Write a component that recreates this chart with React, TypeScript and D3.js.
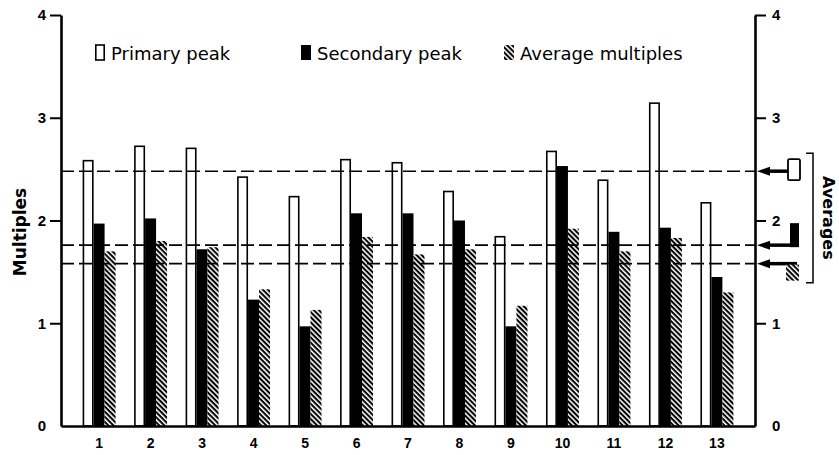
import React, { useEffect, useRef } from 'react';
import * as d3 from 'd3';

// values
const groups = ['1', '2', '3', '4', '5', '6', '7', '8', '9', '10', '11', '12', '13'];
const primaryPeak = [2.59, 2.73, 2.71, 2.43, 2.24, 2.6, 2.57, 2.29, 1.85, 2.68, 2.4, 3.15, 2.18];
const secondaryPeak = [1.97, 2.02, 1.72, 1.23, 0.97, 2.07, 2.07, 2.0, 0.97, 2.53, 1.89, 1.93, 1.45];
const averageMultiples = [1.7, 1.8, 1.74, 1.33, 1.13, 1.84, 1.67, 1.72, 1.17, 1.92, 1.7, 1.83, 1.3];
const seriesKeys = ['primary', 'secondary', 'average'];
const seriesLabels = ['Primary peak', 'Secondary peak', 'Average multiples'];
const averageLevels = [2.48, 1.76, 1.58];
const yTicks = [0, 1, 2, 3, 4];

const W = 839, H = 455;
const left = 61, right = 755, top = 15, bottom = 426;
const FONT = 'Liberation Sans, Arial, sans-serif';
const TEXT_FONT = 'DejaVu Sans, sans-serif';

const App = () => {
  const ref = useRef<SVGSVGElement>(null);

  useEffect(() => {
    document.body.style.margin = '0';
    const svg = d3.select(ref.current);
    svg.selectAll('*').remove();

    // diagonal hatching for the "average multiples" bars
    const pat = svg.append('defs').append('pattern')
      .attr('id', 'hatch')
      .attr('patternUnits', 'userSpaceOnUse')
      .attr('width', 3.6).attr('height', 3.6)
      .attr('patternTransform', 'rotate(45)');
    pat.append('rect').attr('width', 3.6).attr('height', 3.6).attr('fill', '#fff');
    pat.append('line').attr('x1', 0).attr('x2', 3.6).attr('y1', 1).attr('y2', 1)
      .attr('stroke', '#000').attr('stroke-width', 2.1);

    const y = d3.scaleLinear().domain([0, 4]).range([bottom, top]);
    const x0 = d3.scaleBand().domain(groups).range([left, right])
      .paddingInner(0.36).paddingOuter(0.42);
    const x1 = d3.scaleBand().domain(seriesKeys).range([0, x0.bandwidth()]);

    const rows = groups.map((g, i) => ({
      group: g,
      values: [primaryPeak[i], secondaryPeak[i], averageMultiples[i]]
    }));

    // bars
    const gBars = svg.append('g');
    rows.forEach(r => {
      seriesKeys.forEach((k, j) => {
        const v = r.values[j];
        const bx = x0(r.group)! + x1(k)!;
        const rect = gBars.append('rect')
          .attr('y', y(v))
          .attr('height', y(0) - y(v));
        if (k === 'primary') {
          rect.attr('x', bx + 0.8).attr('width', x1.bandwidth() - 1.6)
            .attr('y', y(v) + 0.8).attr('height', y(0) - y(v) - 0.8)
            .attr('fill', '#fff').attr('stroke', '#000').attr('stroke-width', 1.6);
        } else if (k === 'secondary') {
          rect.attr('x', bx).attr('width', x1.bandwidth()).attr('fill', '#000');
        } else {
          rect.attr('x', bx).attr('width', x1.bandwidth()).attr('fill', 'url(#hatch)');
        }
      });
    });

    // dashed average lines
    svg.append('g').selectAll('line').data(averageLevels).join('line')
      .attr('x1', left).attr('x2', right)
      .attr('y1', d => y(d)).attr('y2', d => y(d))
      .attr('stroke', '#000').attr('stroke-width', 1.6)
      .attr('stroke-dasharray', '13,5');

    // axes
    const styleAxis = (g: any, size: number) => {
      g.attr('font-family', FONT).attr('font-size', size).attr('font-weight', 'bold');
      g.select('.domain').attr('stroke-width', 2.6);
      g.selectAll('.tick line').attr('stroke-width', 2);
      g.selectAll('.tick text').attr('fill', '#000');
    };

    const gl = svg.append('g').attr('transform', `translate(${left},0)`)
      .call(d3.axisLeft(y).tickValues(yTicks).tickSize(11).tickPadding(4)
        .tickSizeOuter(0).tickFormat(d3.format('d')));
    styleAxis(gl, 15);
    gl.selectAll('.tick').filter((d: any) => d === 0).select('line').remove();

    const gr = svg.append('g').attr('transform', `translate(${right},0)`)
      .call(d3.axisRight(y).tickValues(yTicks).tickSize(11).tickPadding(6)
        .tickSizeOuter(0).tickFormat(d3.format('d')));
    styleAxis(gr, 15);
    gr.selectAll('.tick').filter((d: any) => d === 0).select('line').remove();

    const gb = svg.append('g').attr('transform', `translate(0,${bottom})`)
      .call(d3.axisBottom(x0).tickSize(0).tickPadding(12).tickSizeOuter(0));
    styleAxis(gb, 14);

    // left axis title
    svg.append('text')
      .attr('transform', `translate(20,232) rotate(-90)`)
      .attr('text-anchor', 'middle').attr('dominant-baseline', 'central')
      .attr('font-family', TEXT_FONT).attr('font-weight', 'bold').attr('font-size', 17)
      .text('Multiples');

    // legend
    const legendX = [95, 301, 504];
    const legend = svg.append('g');
    seriesKeys.forEach((k, i) => {
      const lx = legendX[i];
      const sw = legend.append('rect').attr('x', lx).attr('y', 45).attr('width', 10).attr('height', 15);
      if (k === 'primary') sw.attr('fill', '#fff').attr('stroke', '#000').attr('stroke-width', 1.6)
        .attr('x', lx + 0.8).attr('width', 8.4);
      else if (k === 'secondary') sw.attr('fill', '#000');
      else sw.attr('fill', 'url(#hatch)');
      legend.append('text').attr('x', lx + 16).attr('y', 60)
        .attr('font-family', TEXT_FONT).attr('font-size', 18)
        .text(seriesLabels[i]);
    });

    // averages annotation on the right
    const ann = svg.append('g');
    averageLevels.forEach((v, i) => {
      const ly = y(v);
      ann.append('line').attr('x1', right + 12).attr('x2', 797)
        .attr('y1', ly).attr('y2', ly).attr('stroke', '#000').attr('stroke-width', 3.5);
      ann.append('path')
        .attr('d', `M${right + 2},${ly}L${right + 15},${ly - 4.5}L${right + 15},${ly + 4.5}Z`)
        .attr('fill', '#000');
      if (i === 0) {
        ann.append('rect').attr('x', 788).attr('y', ly - 12).attr('width', 12).attr('height', 21)
          .attr('rx', 1.5).attr('fill', '#fff').attr('stroke', '#000').attr('stroke-width', 1.8);
      } else if (i === 1) {
        ann.append('rect').attr('x', 790).attr('y', ly - 22).attr('width', 9).attr('height', 24)
          .attr('fill', '#000');
      } else {
        ann.append('rect').attr('x', 786).attr('y', ly + 1).attr('width', 13).attr('height', 16)
          .attr('fill', 'url(#hatch)');
      }
    });

    const bTop = y(averageLevels[0]) - 18, bBot = y(averageLevels[2]) + 19;
    ann.append('path')
      .attr('d', `M806,${bTop}H813V${bBot}H806`)
      .attr('fill', 'none').attr('stroke', '#000').attr('stroke-width', 1.5);

    ann.append('text')
      .attr('transform', `translate(828,${(bTop + bBot) / 2}) rotate(90)`)
      .attr('text-anchor', 'middle').attr('dominant-baseline', 'central')
      .attr('font-family', TEXT_FONT).attr('font-weight', 'bold').attr('font-size', 16)
      .text('Averages');
  }, []);

  return <svg ref={ref} width={W} height={H} style={{ display: 'block', background: '#fff' }} />;
};

export default App;
